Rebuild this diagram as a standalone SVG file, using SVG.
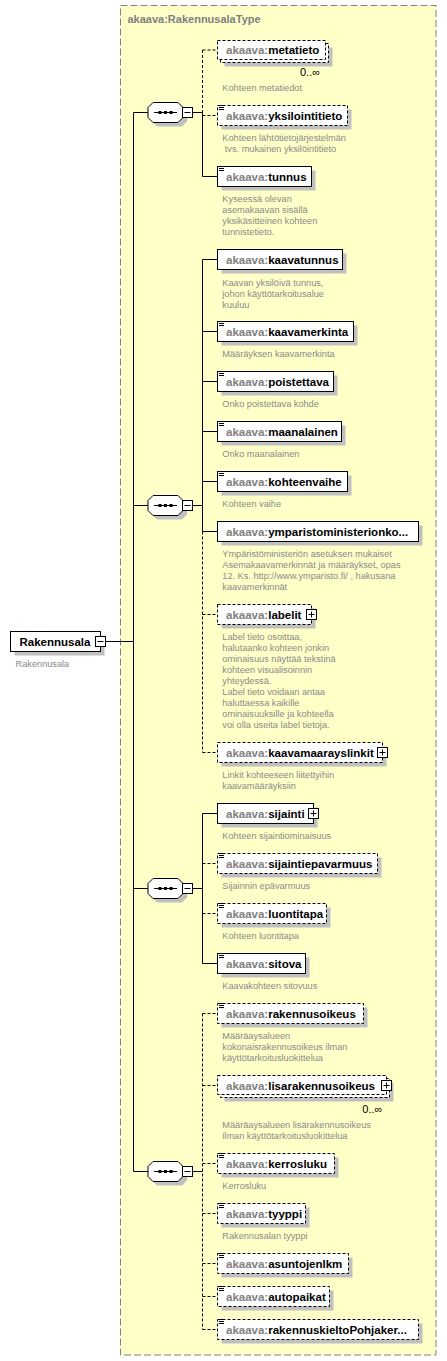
<svg xmlns="http://www.w3.org/2000/svg" width="447" height="1361" viewBox="0 0 447 1361">
<style>
.bx{fill:#fff;stroke:#000;stroke-width:1}
.op{stroke-dasharray:3 2}
.sh{fill:#c0c0c0}
.nm{font-family:"Liberation Sans",Arial,sans-serif;font-weight:bold;font-size:11.5px;fill:#000}
.pre{fill:#808080}
.ds{font-family:"Liberation Sans",Arial,sans-serif;font-size:9.2px;fill:#8a8a8a}
.ln{stroke:#000;stroke-width:1;fill:none}
.dl{stroke-dasharray:3 2}
.ic{stroke:#000;stroke-width:1}
.occ{font-family:"Liberation Sans",Arial,sans-serif;font-size:11px;fill:#000}
</style>
<defs>
<g id="oct">
<path class="sh" d="M152,-1 L157,-6 L182,-6 L187,-1 L187,9 L182,14 L157,14 L152,9 Z"/>
<path class="bx" d="M148,-5 L153,-10 L178,-10 L183,-5 L183,5 L178,10 L153,10 L148,5 Z"/>
<line class="ln" x1="154" y1="0" x2="177" y2="0"/>
<rect x="158.5" y="-1.5" width="3" height="3" fill="#000"/>
<rect x="164" y="-1.5" width="3" height="3" fill="#000"/>
<rect x="169.5" y="-1.5" width="3" height="3" fill="#000"/>
<rect class="bx" x="182.5" y="-5" width="10" height="10"/>
<line class="ln" x1="184.5" y1="0" x2="190.5" y2="0"/>
<line class="ln" x1="192.5" y1="0" x2="202.5" y2="0"/>
</g>
<g id="icon">
<line class="ic" x1="219" y1="0.5" x2="224" y2="0.5"/>
<line class="ic" x1="219" y1="2.5" x2="224" y2="2.5"/>
<line class="ic" x1="219" y1="4.5" x2="224" y2="4.5"/>
</g>
<g id="plus">
<rect class="bx" x="0" y="0" width="10" height="10"/>
<line class="ln" x1="2" y1="5" x2="8" y2="5"/>
<line class="ln" x1="5" y1="2" x2="5" y2="8"/>
</g>
</defs>

<g id="container">
<rect x="120.5" y="5.5" width="315.5" height="1349.5" fill="#ffffc8" stroke="#808080" stroke-width="1" stroke-dasharray="7 3"/>
<text x="127.5" y="22.5" font-family="Liberation Sans, Arial, sans-serif" font-weight="bold" font-size="11px" fill="#808080">akaava:RakennusalaType</text>
</g>

<g id="connectors">
<line class="ln" x1="105.5" y1="641.5" x2="133.5" y2="641.5"/>
<line class="ln" x1="133.5" y1="112.5" x2="133.5" y2="1171.5"/>
<line class="ln" x1="133.5" y1="112.5" x2="148" y2="112.5"/>
<line class="ln" x1="133.5" y1="505.5" x2="148" y2="505.5"/>
<line class="ln" x1="133.5" y1="888.5" x2="148" y2="888.5"/>
<line class="ln" x1="133.5" y1="1171.5" x2="148" y2="1171.5"/>
<!-- seq1 -->
<line class="ln dl" x1="202.5" y1="50" x2="202.5" y2="112.5"/>
<line class="ln" x1="202.5" y1="112.5" x2="202.5" y2="176.5"/>
<line class="ln dl" x1="202.5" y1="50" x2="217.5" y2="50"/>
<line class="ln dl" x1="202.5" y1="115.5" x2="217.5" y2="115.5"/>
<line class="ln" x1="202.5" y1="176.5" x2="217.5" y2="176.5"/>
<!-- seq2 -->
<line class="ln" x1="202.5" y1="259.5" x2="202.5" y2="531.5"/>
<line class="ln dl" x1="202.5" y1="531.5" x2="202.5" y2="752.5"/>
<line class="ln" x1="202.5" y1="259.5" x2="217.5" y2="259.5"/>
<line class="ln" x1="202.5" y1="331.5" x2="217.5" y2="331.5"/>
<line class="ln" x1="202.5" y1="381.5" x2="217.5" y2="381.5"/>
<line class="ln" x1="202.5" y1="431.5" x2="217.5" y2="431.5"/>
<line class="ln" x1="202.5" y1="481.5" x2="217.5" y2="481.5"/>
<line class="ln" x1="202.5" y1="531.5" x2="217.5" y2="531.5"/>
<line class="ln dl" x1="202.5" y1="614.5" x2="217.5" y2="614.5"/>
<line class="ln dl" x1="202.5" y1="752.5" x2="217.5" y2="752.5"/>
<!-- seq3 -->
<line class="ln" x1="202.5" y1="813.5" x2="202.5" y2="963.5"/>
<line class="ln" x1="202.5" y1="813.5" x2="217.5" y2="813.5"/>
<line class="ln dl" x1="202.5" y1="863.5" x2="217.5" y2="863.5"/>
<line class="ln dl" x1="202.5" y1="913.5" x2="217.5" y2="913.5"/>
<line class="ln" x1="202.5" y1="963.5" x2="217.5" y2="963.5"/>
<!-- seq4 -->
<line class="ln dl" x1="202.5" y1="1013.5" x2="202.5" y2="1329.5"/>
<line class="ln dl" x1="202.5" y1="1013.5" x2="217.5" y2="1013.5"/>
<line class="ln dl" x1="202.5" y1="1085.5" x2="217.5" y2="1085.5"/>
<line class="ln dl" x1="202.5" y1="1163.5" x2="217.5" y2="1163.5"/>
<line class="ln dl" x1="202.5" y1="1213.5" x2="217.5" y2="1213.5"/>
<line class="ln dl" x1="202.5" y1="1263.5" x2="217.5" y2="1263.5"/>
<line class="ln dl" x1="202.5" y1="1296.5" x2="217.5" y2="1296.5"/>
<line class="ln dl" x1="202.5" y1="1329.5" x2="217.5" y2="1329.5"/>
</g>

<g id="root">
<rect class="sh" x="14.5" y="635.5" width="90" height="20"/>
<rect class="bx" x="10.5" y="631.5" width="90" height="20"/>
<text class="nm" x="19.5" y="645.5">Rakennusala</text>
<rect class="bx" x="95.5" y="636.5" width="10" height="10"/>
<line class="ln" x1="97.5" y1="641.5" x2="103.5" y2="641.5"/>
<text class="ds" x="15.6" y="666.6" fill="#7f7f8f">Rakennusala</text>
</g>

<g id="seq1"><use href="#oct" transform="translate(0,112.5)"/></g>
<g id="seq2"><use href="#oct" transform="translate(0,505.5)"/></g>
<g id="seq3"><use href="#oct" transform="translate(0,888.5)"/></g>
<g id="seq4"><use href="#oct" transform="translate(0,1171.5)"/></g>

<g id="metatieto">
<rect class="sh" x="224.5" y="47.5" width="108" height="19"/>
<rect class="bx op" x="220.5" y="43.5" width="108" height="19"/>
<rect class="bx op" x="217.5" y="40.5" width="108" height="19"/>
<text class="nm" x="226" y="54"><tspan class="pre">akaava:</tspan>metatieto</text>
<text class="occ" x="300" y="75.5">0..∞</text>
<text class="ds" x="222.3" y="91.3">Kohteen metatiedot</text>
</g>

<g id="yksilointitieto">
<rect class="sh" x="221.5" y="109.5" width="130" height="20"/>
<rect class="bx op" x="217.5" y="105.5" width="130" height="20"/>
<use href="#icon" transform="translate(0,105)"/>
<text class="nm" x="226" y="119.5"><tspan class="pre">akaava:</tspan>yksilointitieto</text>
<text class="ds" x="222.3" y="140.6">Kohteen lähtötietojärjestelmän</text>
<text class="ds" x="224.8" y="151.6">tvs. mukainen yksilöintitieto</text>
</g>

<g id="tunnus">
<rect class="sh" x="221.5" y="170.5" width="94" height="20"/>
<rect class="bx" x="217.5" y="166.5" width="94" height="20"/>
<use href="#icon" transform="translate(0,166)"/>
<text class="nm" x="226" y="180.5"><tspan class="pre">akaava:</tspan>tunnus</text>
<text class="ds" x="222.3" y="202">Kyseessä olevan</text>
<text class="ds" x="222.3" y="213">asemakaavan sisällä</text>
<text class="ds" x="222.3" y="224">yksikäsitteinen kohteen</text>
<text class="ds" x="222.3" y="235">tunnistetieto.</text>
</g>

<g id="kaavatunnus">
<rect class="sh" x="221.5" y="253.5" width="125" height="20"/>
<rect class="bx" x="217.5" y="249.5" width="125" height="20"/>
<text class="nm" x="226" y="263.5"><tspan class="pre">akaava:</tspan>kaavatunnus</text>
<text class="ds" x="222.3" y="285.6">Kaavan yksilöivä tunnus,</text>
<text class="ds" x="222.3" y="296.6">johon käyttötarkoitusalue</text>
<text class="ds" x="222.3" y="307.6">kuuluu</text>
</g>

<g id="kaavamerkinta">
<rect class="sh" x="221.5" y="325.5" width="136" height="20"/>
<rect class="bx" x="217.5" y="321.5" width="136" height="20"/>
<use href="#icon" transform="translate(0,321)"/>
<text class="nm" x="226" y="335.5"><tspan class="pre">akaava:</tspan>kaavamerkinta</text>
<text class="ds" x="222.3" y="357">Määräyksen kaavamerkinta</text>
</g>

<g id="poistettava">
<rect class="sh" x="221.5" y="375.5" width="116" height="20"/>
<rect class="bx" x="217.5" y="371.5" width="116" height="20"/>
<use href="#icon" transform="translate(0,371)"/>
<text class="nm" x="226" y="385.5"><tspan class="pre">akaava:</tspan>poistettava</text>
<text class="ds" x="222.3" y="407">Onko poistettava kohde</text>
</g>

<g id="maanalainen">
<rect class="sh" x="221.5" y="425.5" width="124" height="20"/>
<rect class="bx" x="217.5" y="421.5" width="124" height="20"/>
<use href="#icon" transform="translate(0,421)"/>
<text class="nm" x="226" y="435.5"><tspan class="pre">akaava:</tspan>maanalainen</text>
<text class="ds" x="222.3" y="456.6">Onko maanalainen</text>
</g>

<g id="kohteenvaihe">
<rect class="sh" x="221.5" y="475.5" width="130" height="20"/>
<rect class="bx" x="217.5" y="471.5" width="130" height="20"/>
<use href="#icon" transform="translate(0,471)"/>
<text class="nm" x="226" y="485.5"><tspan class="pre">akaava:</tspan>kohteenvaihe</text>
<text class="ds" x="222.3" y="507">Kohteen vaihe</text>
</g>

<g id="ymparistoministerionko">
<rect class="sh" x="221.5" y="525.5" width="201" height="20"/>
<rect class="bx" x="217.5" y="521.5" width="201" height="20"/>
<text class="nm" x="226" y="535.5"><tspan class="pre">akaava:</tspan>ymparistoministerionko...</text>
<text class="ds" x="222.3" y="557">Ympäristöministeriön asetuksen mukaiset</text>
<text class="ds" x="222.3" y="568">Asemakaavamerkinnät ja määräykset, opas</text>
<text class="ds" x="222.3" y="579">12. Ks. http://www.ymparisto.fi/ , hakusana</text>
<text class="ds" x="222.3" y="590">kaavamerkinnät</text>
</g>

<g id="labelit">
<rect class="sh" x="221.5" y="608.5" width="94" height="20"/>
<rect class="bx op" x="217.5" y="604.5" width="94" height="20"/>
<text class="nm" x="226" y="618.5"><tspan class="pre">akaava:</tspan>labelit</text>
<use href="#plus" transform="translate(306.5,609.5)"/>
<text class="ds" x="222.3" y="639.6">Label tieto osoittaa,</text>
<text class="ds" x="222.3" y="650.6">halutaanko kohteen jonkin</text>
<text class="ds" x="222.3" y="661.6">ominaisuus näyttää tekstinä</text>
<text class="ds" x="222.3" y="672.6">kohteen visualisoinnin</text>
<text class="ds" x="222.3" y="683.6">yhteydessä.</text>
<text class="ds" x="222.3" y="694.6">Label tieto voidaan antaa</text>
<text class="ds" x="222.3" y="705.6">haluttaessa kaikille</text>
<text class="ds" x="222.3" y="716.6">ominaisuuksille ja kohteella</text>
<text class="ds" x="222.3" y="727.6">voi olla useita label tietoja.</text>
</g>

<g id="kaavamaarayslinkit">
<rect class="sh" x="221.5" y="746.5" width="165" height="20"/>
<rect class="bx op" x="217.5" y="742.5" width="165" height="20"/>
<text class="nm" x="226" y="756.5"><tspan class="pre">akaava:</tspan>kaavamaarayslinkit</text>
<use href="#plus" transform="translate(377.5,747.5)"/>
<text class="ds" x="222.3" y="778">Linkit kohteeseen liitettyihin</text>
<text class="ds" x="222.3" y="789">kaavamääräyksiin</text>
</g>

<g id="sijainti">
<rect class="sh" x="221.5" y="807.5" width="96" height="20"/>
<rect class="bx" x="217.5" y="803.5" width="96" height="20"/>
<text class="nm" x="226" y="817.5"><tspan class="pre">akaava:</tspan>sijainti</text>
<use href="#plus" transform="translate(308.5,808.5)"/>
<text class="ds" x="222.3" y="839">Kohteen sijaintiominaisuus</text>
</g>

<g id="sijaintiepavarmuus">
<rect class="sh" x="221.5" y="857.5" width="160" height="20"/>
<rect class="bx op" x="217.5" y="853.5" width="160" height="20"/>
<use href="#icon" transform="translate(0,853)"/>
<text class="nm" x="226" y="867.5"><tspan class="pre">akaava:</tspan>sijaintiepavarmuus</text>
<text class="ds" x="222.3" y="889">Sijainnin epävarmuus</text>
</g>

<g id="luontitapa">
<rect class="sh" x="221.5" y="907.5" width="109" height="20"/>
<rect class="bx op" x="217.5" y="903.5" width="109" height="20"/>
<use href="#icon" transform="translate(0,903)"/>
<text class="nm" x="226" y="917.5"><tspan class="pre">akaava:</tspan>luontitapa</text>
<text class="ds" x="222.3" y="939">Kohteen luontitapa</text>
</g>

<g id="sitova">
<rect class="sh" x="221.5" y="957.5" width="88" height="20"/>
<rect class="bx" x="217.5" y="953.5" width="88" height="20"/>
<use href="#icon" transform="translate(0,953)"/>
<text class="nm" x="226" y="967.5"><tspan class="pre">akaava:</tspan>sitova</text>
<text class="ds" x="222.3" y="989">Kaavakohteen sitovuus</text>
</g>

<g id="rakennusoikeus">
<rect class="sh" x="221.5" y="1007.5" width="146" height="20"/>
<rect class="bx op" x="217.5" y="1003.5" width="146" height="20"/>
<use href="#icon" transform="translate(0,1003)"/>
<text class="nm" x="226" y="1017.5"><tspan class="pre">akaava:</tspan>rakennusoikeus</text>
<text class="ds" x="222.3" y="1039">Määräaysalueen</text>
<text class="ds" x="222.3" y="1050">kokonaisrakennusoikeus ilman</text>
<text class="ds" x="222.3" y="1061">käyttötarkoitusluokittelua</text>
</g>

<g id="lisarakennusoikeus">
<rect class="sh" x="224.5" y="1082.5" width="169" height="19"/>
<rect class="bx op" x="220.5" y="1078.5" width="169" height="19"/>
<rect class="bx op" x="217.5" y="1075.5" width="169" height="19"/>
<text class="nm" x="226" y="1089.5"><tspan class="pre">akaava:</tspan>lisarakennusoikeus</text>
<use href="#plus" transform="translate(381.5,1080.5)"/>
<text class="occ" x="362.3" y="1113">0..∞</text>
<text class="ds" x="222.3" y="1128">Määräaysalueen lisärakennusoikeus</text>
<text class="ds" x="222.3" y="1139">ilman käyttötarkoitusluokittelua</text>
</g>

<g id="kerrosluku">
<rect class="sh" x="221.5" y="1157.5" width="117" height="20"/>
<rect class="bx op" x="217.5" y="1153.5" width="117" height="20"/>
<use href="#icon" transform="translate(0,1153)"/>
<text class="nm" x="226" y="1167.5"><tspan class="pre">akaava:</tspan>kerrosluku</text>
<text class="ds" x="222.3" y="1189">Kerrosluku</text>
</g>

<g id="tyyppi">
<rect class="sh" x="221.5" y="1207.5" width="88" height="20"/>
<rect class="bx op" x="217.5" y="1203.5" width="88" height="20"/>
<use href="#icon" transform="translate(0,1203)"/>
<text class="nm" x="226" y="1217.5"><tspan class="pre">akaava:</tspan>tyyppi</text>
<text class="ds" x="222.3" y="1239">Rakennusalan tyyppi</text>
</g>

<g id="asuntojenlkm">
<rect class="sh" x="221.5" y="1257.5" width="131" height="20"/>
<rect class="bx op" x="217.5" y="1253.5" width="131" height="20"/>
<use href="#icon" transform="translate(0,1253)"/>
<text class="nm" x="226" y="1267.5"><tspan class="pre">akaava:</tspan>asuntojenlkm</text>
</g>

<g id="autopaikat">
<rect class="sh" x="221.5" y="1290.5" width="112" height="20"/>
<rect class="bx op" x="217.5" y="1286.5" width="112" height="20"/>
<use href="#icon" transform="translate(0,1286)"/>
<text class="nm" x="226" y="1300.5"><tspan class="pre">akaava:</tspan>autopaikat</text>
</g>

<g id="rakennuskieltoPohjaker">
<rect class="sh" x="221.5" y="1323.5" width="201" height="20"/>
<rect class="bx op" x="217.5" y="1319.5" width="201" height="20"/>
<use href="#icon" transform="translate(0,1319)"/>
<text class="nm" x="226" y="1333.5"><tspan class="pre">akaava:</tspan>rakennuskieltoPohjaker...</text>
</g>
</svg>
